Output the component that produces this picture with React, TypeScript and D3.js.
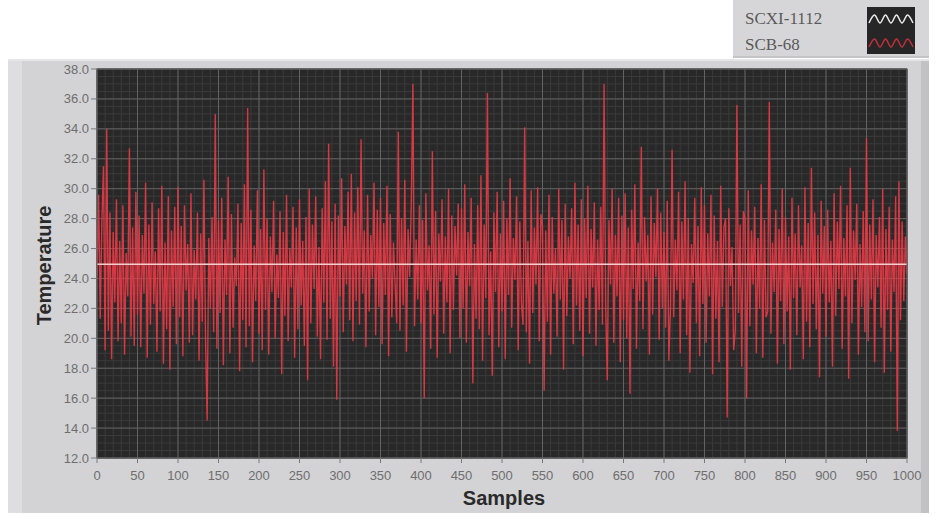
import React from "react";
import * as d3 from "d3";

const xTicks = [0, 50, 100, 150, 200, 250, 300, 350, 400, 450, 500, 550, 600, 650, 700, 750, 800, 850, 900, 950, 1000];
const yTicks = [12, 14, 16, 18, 20, 22, 24, 26, 28, 30, 32, 34, 36, 38];
const legendNames = ["SCXI-1112", "SCB-68"];
const xTitle = "Samples";
const yTitle = "Temperature";

// SCXI-1112 plot: read at every 50 samples
const scxiSamples = [0, 50, 100, 150, 200, 250, 300, 350, 400, 450, 500, 550, 600, 650, 700, 750, 800, 850, 900, 950, 1000];
const scxiValues = [24.95, 24.95, 24.95, 24.95, 24.95, 24.95, 24.95, 24.95, 24.95, 24.95, 24.95, 24.95, 24.95, 24.95, 24.95, 24.95, 24.95, 24.95, 24.95, 24.95, 24.95];

// SCB-68 plot: one reading every 2 samples (0..1000)
const scbSampleStep = 2;
const scbValues = [
  24.1, 29.6, 21.3, 27.8, 31.5, 19.2, 34.0, 20.5, 28.4, 18.6, 27.1, 22.4, 29.3, 19.8, 26.5, 21.0, 28.9, 18.9, 25.7, 22.8, 32.7, 20.1, 27.4, 19.5, 29.8,
  21.6, 28.2, 19.4, 26.9, 23.0, 30.4, 18.7, 27.6, 20.9, 29.1, 22.3, 25.8, 19.1, 28.7, 21.8, 30.2, 18.3, 26.4, 20.6, 29.5, 17.9, 27.2, 22.1, 28.8, 19.6,
  30.1, 21.4, 27.5, 18.8, 28.9, 23.2, 26.3, 19.7, 29.7, 20.2, 25.9, 22.6, 28.4, 18.5, 27.0, 21.1, 30.6, 19.9, 14.5, 26.7, 22.0, 28.1, 20.4, 35.0, 19.3,
  27.9, 21.7, 29.4, 18.2, 26.6, 22.9, 30.8, 19.0, 28.3, 20.7, 25.4, 23.5, 29.0, 17.8, 27.7, 21.2, 30.3, 19.4, 35.4, 20.8, 28.6, 18.4, 26.2, 22.5, 29.9,
  20.3, 27.3, 19.2, 31.3, 21.9, 28.0, 18.9, 26.8, 23.1, 29.2, 20.0, 25.6, 22.7, 28.5, 17.6, 27.1, 21.5, 29.6, 19.8, 26.0, 23.4, 28.8, 18.7, 27.4, 20.6,
  29.3, 22.2, 26.5, 19.5, 28.1, 17.2, 30.0, 21.0, 27.6, 23.3, 29.5, 20.1, 26.1, 18.6, 28.7, 22.4, 30.5, 19.9, 33.0, 21.3, 27.8, 18.1, 29.0, 15.9, 28.2,
  22.8, 30.7, 20.4, 27.5, 23.6, 29.8, 21.2, 31.0, 19.8, 28.4, 22.5, 30.1, 20.9, 33.3, 23.0, 27.2, 19.4, 29.6, 21.8, 26.9, 24.0, 30.4, 20.2, 28.6, 22.1,
  29.4, 19.6, 27.7, 22.9, 30.2, 18.8, 28.3, 21.4, 26.4, 23.7, 21.0, 33.8, 20.5, 28.0, 22.2, 30.6, 19.1, 27.3, 24.1, 29.1, 37.0, 20.8, 26.6, 22.6, 28.9,
  21.0, 27.9, 16.0, 29.7, 23.2, 26.2, 19.3, 32.5, 21.6, 28.5, 18.7, 27.0, 23.8, 29.3, 20.3, 26.8, 22.4, 30.0, 19.0, 28.2, 21.9, 27.5, 24.2, 29.0, 20.0,
  28.7, 22.0, 30.3, 19.7, 27.1, 23.5, 29.4, 17.0, 26.3, 21.3, 28.9, 20.6, 30.9, 18.5, 27.6, 22.7, 36.4, 20.2, 25.8, 17.5, 28.4, 23.1, 29.8, 19.4, 27.0,
  21.8, 29.2, 18.6, 28.0, 22.9, 30.7, 20.7, 26.7, 23.9, 29.5, 19.2, 27.8, 22.3, 20.9, 34.1, 20.4, 26.5, 18.3, 29.9, 21.7, 27.4, 23.6, 30.1, 19.8, 28.3,
  27.5, 16.5, 27.2, 21.1, 29.6, 18.9, 28.1, 23.0, 26.0, 20.1, 30.0, 22.6, 27.9, 17.9, 29.0, 21.5, 26.8, 24.0, 28.7, 19.6, 30.4, 22.2, 27.6, 20.5, 29.3,
  18.8, 28.0, 22.7, 30.2, 20.3, 27.3, 23.4, 29.1, 19.5, 26.6, 21.9, 28.8, 20.9, 37.0, 22.1, 17.2, 27.9, 23.6, 30.0, 19.7, 26.9, 22.8, 29.4, 18.4, 28.2,
  21.2, 29.7, 20.0, 27.4, 16.3, 28.6, 23.3, 30.3, 19.3, 26.4, 22.5, 32.8, 20.6, 28.1, 23.8, 26.9, 18.9, 29.5, 21.6, 27.7, 24.1, 30.0, 19.9, 28.4, 22.0,
  27.1, 20.7, 29.2, 18.5, 22.0, 32.6, 21.4, 26.6, 23.2, 29.8, 19.0, 27.8, 22.6, 30.5, 20.2, 28.0, 17.7, 26.3, 23.7, 29.4, 21.0, 27.5, 18.8, 30.1, 22.3,
  28.9, 19.7, 27.0, 22.8, 29.6, 17.6, 28.2, 21.3, 26.5, 18.4, 30.2, 22.1, 27.4, 28.0, 14.7, 28.7, 23.5, 26.1, 19.2, 20.5, 35.6, 21.7, 27.6, 18.1, 28.5,
  28.0, 16.0, 29.9, 20.8, 27.2, 23.6, 28.8, 19.0, 26.7, 22.0, 30.3, 18.7, 27.9, 21.4, 21.8, 35.8, 20.3, 26.4, 23.1, 28.6, 18.3, 27.3, 22.5, 30.0, 19.6,
  28.1, 21.8, 26.8, 17.9, 29.4, 22.7, 27.0, 20.2, 28.9, 23.4, 26.2, 18.6, 30.1, 21.1, 27.7, 19.4, 31.4, 22.3, 28.4, 20.6, 26.9, 17.4, 29.2, 23.0, 27.5,
  20.1, 28.6, 22.4, 26.5, 18.1, 29.7, 21.5, 27.8, 23.3, 30.2, 19.3, 26.7, 22.8, 28.9, 17.3, 31.4, 21.0, 27.2, 23.9, 29.0, 18.9, 26.3, 22.1, 28.5, 20.4,
  33.4, 19.8, 27.6, 22.6, 29.3, 18.4, 26.9, 23.4, 28.1, 20.7, 30.0, 17.7, 27.3, 21.9, 28.8, 19.1, 26.6, 23.1, 29.5, 13.8, 30.5, 21.2, 27.8, 22.5, 26.8,
  24.3,
];

export default function App() {
  const W = 936;
  const H = 515;
  const plotL = 97, plotR = 907, plotT = 69, plotB = 458;

  const x = d3.scaleLinear().domain([0, 1000]).range([plotL, plotR]);
  const y = d3.scaleLinear().domain([12, 38]).range([plotB, plotT]);

  const minorX = d3.range(0, 1001, 10);
  const minorY = d3.range(12, 38.001, 0.5);

  const scbLine = d3
    .line<number>()
    .x((_, i) => x(i * scbSampleStep))
    .y((d) => y(d));
  const scxiLine = d3
    .line<number>()
    .x((_, i) => x(scxiSamples[i]))
    .y((d) => y(d));

  // legend swatch waves (decoration)
  const wave = (x0: number, yMid: number, amp: number, n: number, w: number) => {
    const pts: [number, number][] = [];
    for (let i = 0; i <= n; i++) pts.push([x0 + (i * w) / n, yMid + (i % 2 === 0 ? amp : -amp)]);
    return d3.line().curve(d3.curveMonotoneX)(pts) || "";
  };

  const tickFont = "'Liberation Sans', Arial, sans-serif";

  return (
    <svg
      width={W}
      height={H}
      style={{ position: "absolute", left: 0, top: 0, background: "#ffffff" }}
    >
      <defs>
        <clipPath id="plotClip">
          <rect x={plotL} y={plotT} width={plotR - plotL} height={plotB - plotT} />
        </clipPath>
      </defs>

      {/* outer panel */}
      <rect x={8} y={59} width={921} height={454} fill="#d3d3d5" />
      <rect x={8} y={59} width={14} height={454} fill="#dedee0" />
      <rect x={921} y={59} width={8} height={454} fill="#c2c2c4" />
      <rect x={8} y={59} width={921} height={2} fill="#e6e6e8" />

      {/* plot area */}
      <rect x={plotL} y={plotT} width={plotR - plotL} height={plotB - plotT} fill="#282828" />

      {/* minor grid */}
      <g stroke="#3b3b3b" strokeWidth={1}>
        {minorX.map((v) => (
          <line key={"mx" + v} x1={x(v)} x2={x(v)} y1={plotT} y2={plotB} />
        ))}
        {minorY.map((v) => (
          <line key={"my" + v} x1={plotL} x2={plotR} y1={y(v)} y2={y(v)} />
        ))}
      </g>
      {/* major grid */}
      <g stroke="#626262" strokeWidth={1}>
        {xTicks.map((v) => (
          <line key={"gx" + v} x1={x(v)} x2={x(v)} y1={plotT} y2={plotB} />
        ))}
        {yTicks.map((v) => (
          <line key={"gy" + v} x1={plotL} x2={plotR} y1={y(v)} y2={y(v)} />
        ))}
      </g>

      {/* data */}
      <g clipPath="url(#plotClip)">
        <path d={scbLine(scbValues) || ""} fill="none" stroke="#e63a46" strokeWidth={1.4} strokeOpacity={0.9} />
        <path d={scxiLine(scxiValues) || ""} fill="none" stroke="#f4cccc" strokeWidth={1.6} />
      </g>

      <rect x={plotL} y={plotT} width={plotR - plotL} height={plotB - plotT} fill="none" stroke="#5a5a5a" strokeWidth={1} />

      {/* y axis */}
      <g fontFamily={tickFont} fontSize={13} fill="#6e6e6e">
        {yTicks.map((v) => (
          <g key={"yt" + v}>
            <line x1={plotL - 6} x2={plotL} y1={y(v)} y2={y(v)} stroke="#7a7a7a" />
            <text x={plotL - 8} y={y(v)} dy="0.35em" textAnchor="end">
              {v.toFixed(1)}
            </text>
          </g>
        ))}
      </g>

      {/* x axis */}
      <g fontFamily={tickFont} fontSize={13} fill="#6e6e6e">
        {xTicks.map((v) => (
          <g key={"xt" + v}>
            <line x1={x(v)} x2={x(v)} y1={plotB} y2={plotB + 5} stroke="#7a7a7a" />
            <text x={x(v)} y={plotB + 22} textAnchor="middle">
              {v}
            </text>
          </g>
        ))}
      </g>

      {/* axis titles */}
      <text
        x={(plotL + plotR) / 2 + 2}
        y={505}
        textAnchor="middle"
        fontFamily={tickFont}
        fontWeight="bold"
        fontSize={20}
        fill="#2a2a2a"
      >
        {xTitle}
      </text>
      <text
        transform={`translate(51, ${(plotT + plotB) / 2 + 2}) rotate(-90)`}
        textAnchor="middle"
        fontFamily={tickFont}
        fontWeight="bold"
        fontSize={20}
        fill="#2a2a2a"
      >
        {yTitle}
      </text>

      {/* legend */}
      <rect x={733} y={0} width={196} height={58} fill="#d6d6d8" />
      <rect x={733} y={56} width={196} height={2} fill="#c4c4c6" />
      <text x={745} y={24} fontFamily="'Liberation Serif', serif" fontSize={17} fill="#5a5a5a">
        {legendNames[0]}
      </text>
      <text x={745} y={50} fontFamily="'Liberation Serif', serif" fontSize={17} fill="#5a5a5a">
        {legendNames[1]}
      </text>
      <rect x={867} y={7} width={48} height={47} fill="#262626" />
      <path d={wave(869, 19, 4, 8, 44)} fill="none" stroke="#ececec" strokeWidth={1.5} />
      <path d={wave(869, 43, 4, 8, 44)} fill="none" stroke="#c0303a" strokeWidth={1.5} />
    </svg>
  );
}
